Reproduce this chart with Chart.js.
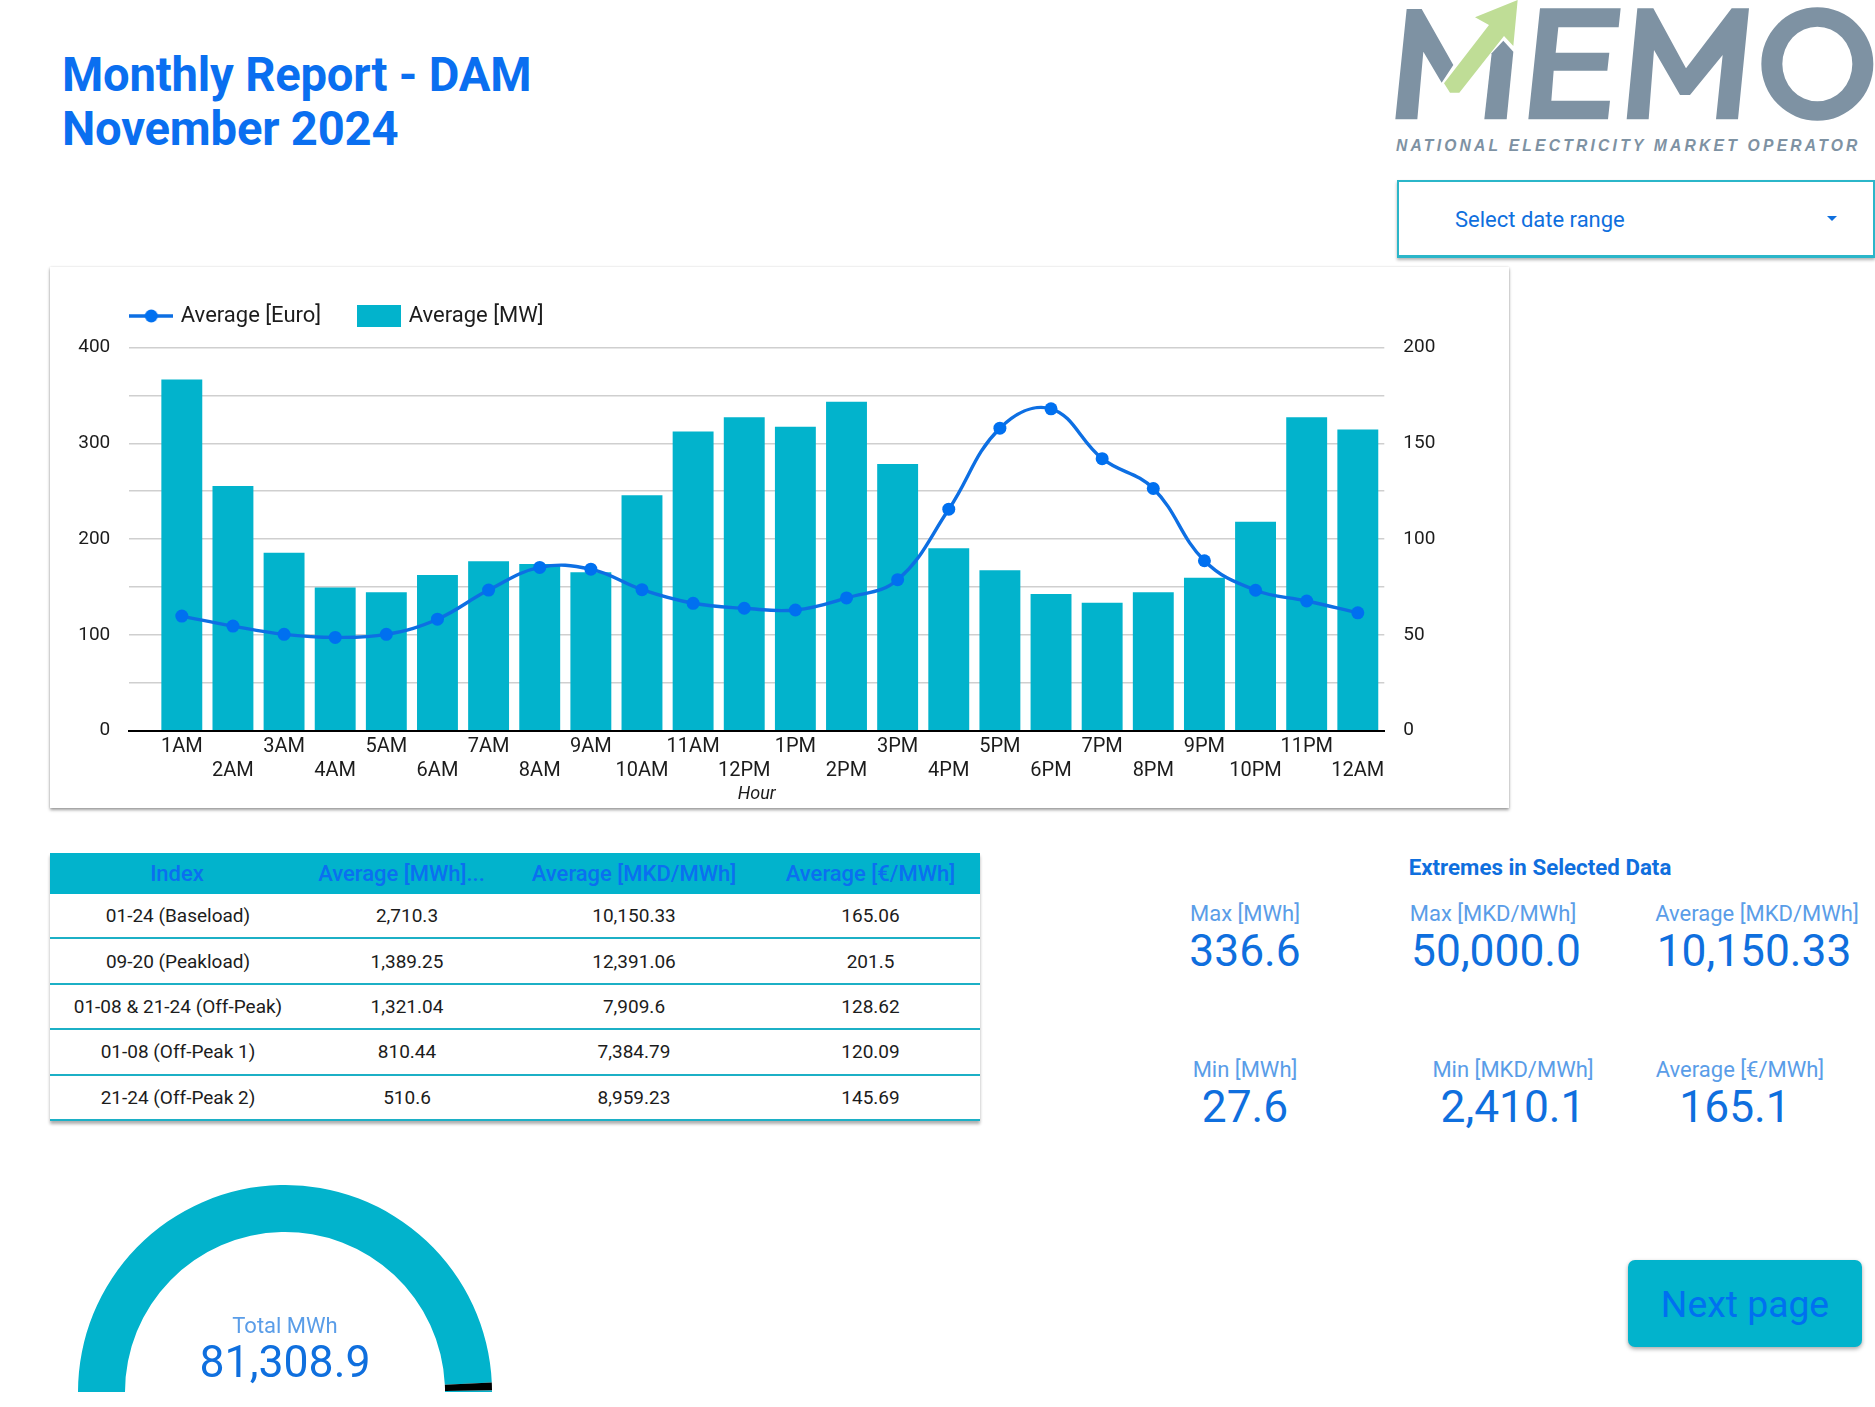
<!DOCTYPE html>
<html><head><meta charset="utf-8">
<script src="https://cdn.jsdelivr.net/npm/chart.js@4"></script>
<style>
html,body{margin:0;padding:0;background:#fff;width:1875px;height:1407px;overflow:hidden;font-family:Roboto,sans-serif}
.abs{position:absolute}
.c{position:absolute;transform:translate(-50%,-50%);white-space:nowrap}
#title{left:62px;top:48px;font-size:47.2px;line-height:54px;font-weight:700;color:#0a6ff0;letter-spacing:-.2px}
#dd{left:1397px;top:180px;width:478px;height:78px;box-sizing:border-box;border:2px solid #2bb6c9;border-bottom-width:3px;border-right:2px solid #2bb6c9;box-shadow:0 2px 3px rgba(0,0,0,.3)}
#ddt{left:1455px;top:219px;font-size:22px;color:#0f6fde;transform:translateY(-50%);position:absolute;white-space:nowrap}
#card{left:50px;top:267px;width:1459px;height:541px;background:#fff;box-shadow:0 2px 3px rgba(0,0,0,.38),0 0 2px rgba(0,0,0,.12)}
#tbl{left:50px;top:853px;width:930px;border-collapse:collapse;table-layout:fixed;box-shadow:0 3px 3px rgba(0,0,0,.32);background:#fff}
#tbl th{height:41px;padding:0;background:#02b3cc;color:#0b6ff0;font-size:22px;font-weight:500;text-align:center}
#tbl th:nth-child(2){padding-right:8px}
#tbl td{height:43.4px;padding:0;border-bottom:2px solid #1cb0c6;font-size:19px;color:#1c1c1c;text-align:center}
#tbl td:nth-child(1){padding-left:2px}
#tbl td:nth-child(2){padding-left:3px}
.lb{font-size:22px;color:#5a9de8}
.vl{font-size:44.3px;color:#0f6fde}
#btn{left:1628px;top:1260px;width:234px;height:87px;background:#02b3cc;border-radius:7px;box-shadow:0 2px 4px rgba(0,0,0,.35);color:#0070f0;font-size:37.3px;display:flex;align-items:center;justify-content:center}
</style></head><body>
<div id="title" class="abs">Monthly Report - DAM<br>November 2024</div>

<svg class="abs" style="left:1380px;top:0" width="495" height="270" viewBox="0 0 1485 810">
<g fill="#7e92a3">
<polygon points="46,358 80,27 125,27 220,195 185,248 130,155 112,358"/>
<polygon points="313,358 335,160 370,122 400,155 380,358"/>
<polygon points="445,358 480,25 722,25 716,82 535,82 527,158 688,158 682,212 521,212 514,302 690,302 684,358"/>
<polygon points="740,358 772,25 820,25 918,205 1055,25 1107,25 1074,358 1008,358 1028,165 930,285 900,285 822,150 806,358"/>
<path fill-rule="evenodd" d="M1144 192a168 170 0 1 0 336 0a168 170 0 1 0 -336 0zM1207 192a105 112 0 1 1 210 0a105 112 0 1 1 -210 0z"/>
</g>
<polygon fill="#bfdd96" points="192,250 210,278 238,278 372,108 400,138 413,0 285,52 327,75"/>
<text x="48" y="452" font-family="Liberation Sans" font-style="italic" font-weight="700" font-size="47" fill="#7e92a3" textLength="1384" lengthAdjust="spacing">NATIONAL ELECTRICITY MARKET OPERATOR</text>
</svg>

<div id="dd" class="abs"></div>
<div id="ddt">Select date range</div>
<svg class="abs" style="left:1826px;top:215px" width="12" height="7"><polygon points="1,1 11,1 6,6" fill="#0f6fde"/></svg>

<div id="card" class="abs"><canvas id="combo" width="1459" height="541" style="display:block;width:1459px;height:541px"></canvas></div>

<table id="tbl" class="abs"><colgroup><col style="width:254px"><col style="width:203px"><col style="width:254px"><col style="width:219px"></colgroup>
<thead><tr id="thead"></tr></thead><tbody id="tbody"></tbody></table>

<div id="stats"></div>

<div class="abs" style="left:78px;top:1185px;width:414px;height:207px"><canvas id="gauge" width="414" height="207" style="display:block;width:414px;height:207px"></canvas></div>
<div class="c lb" style="left:285px;top:1325px">Total MWh</div>
<div class="c vl" style="left:285px;top:1362px;font-size:44.6px">81,308.9</div>

<div id="btn" class="abs">Next page</div>

<script>
const hourLabels = ['1AM','2AM','3AM','4AM','5AM','6AM','7AM','8AM','9AM','10AM','11AM','12PM','1PM','2PM','3PM','4PM','5PM','6PM','7PM','8PM','9PM','10PM','11PM','12AM'];
const averageEuro = [59.8,54.6,50.3,48.7,50.3,58.2,73.4,85.2,84.3,73.6,66.5,63.9,63,69.3,78.8,115.6,157.9,168,142,126.4,88.7,73.3,67.7,61.5];
const averageMW = [366.5,255.4,185.7,149.5,144.6,162.5,177,174,165.5,245.7,312.4,327.3,317.3,343.4,278.5,190.5,167.4,142.8,133.5,144.6,159.6,218,327.3,314.3];
const leftTickLabels = ['0','100','200','300','400'];
const rightTickLabels = ['0','50','100','150','200'];
const tableHeaders = ['Index','Average [MWh]...','Average [MKD/MWh]','Average [€/MWh]'];
const tableRows = [
 ['01-24 (Baseload)','2,710.3','10,150.33','165.06'],
 ['09-20 (Peakload)','1,389.25','12,391.06','201.5'],
 ['01-08 & 21-24 (Off-Peak)','1,321.04','7,909.6','128.62'],
 ['01-08 (Off-Peak 1)','810.44','7,384.79','120.09'],
 ['21-24 (Off-Peak 2)','510.6','8,959.23','145.69']];
const gaugeSegments = [177.4,2.2,0.4];

const TEAL='#02b3cc', BLUE='#0d6fe3', DOT='#0070f0';
document.getElementById('thead').innerHTML = tableHeaders.map(h=>`<th>${h}</th>`).join('');
document.getElementById('tbody').innerHTML = tableRows.map(r=>'<tr>'+r.map(c=>`<td>${c.replace('&','&amp;')}</td>`).join('')+'</tr>').join('');

const statCells = [
 ['Max [MWh]','336.6',1245,913,1245,951],
 ['Max [MKD/MWh]','50,000.0',1493,913,1496,951],
 ['Average [MKD/MWh]','10,150.33',1757,913,1754,951],
 ['Min [MWh]','27.6',1245,1069,1245,1107],
 ['Min [MKD/MWh]','2,410.1',1513,1069,1513,1107],
 ['Average [€/MWh]','165.1',1740,1069,1735,1107]];
let sh = '<div class="c" style="left:1540px;top:867px;font-size:22.3px;font-weight:700;color:#0f6fde">Extremes in Selected Data</div>';
statCells.forEach(s=>{sh+=`<div class="c lb" style="left:${s[2]}px;top:${s[3]}px">${s[0]}</div><div class="c vl" style="left:${s[4]}px;top:${s[5]}px">${s[1]}</div>`;});
document.getElementById('stats').innerHTML = sh;

function lineSwatch(){const c=document.createElement('canvas');c.width=44;c.height=20;const x=c.getContext('2d');
 x.strokeStyle=BLUE;x.lineWidth=3.4;x.beginPath();x.moveTo(0,10);x.lineTo(44,10);x.stroke();
 x.fillStyle=DOT;x.beginPath();x.arc(22,10,6.5,0,Math.PI*2);x.fill();return c;}
function barSwatch(){const c=document.createElement('canvas');c.width=44;c.height=22;const x=c.getContext('2d');
 x.fillStyle=TEAL;x.fillRect(0,0,44,22);return c;}

Chart.defaults.font.family='Roboto';
Chart.defaults.color='#1c1c1c';
const PL=79.3, PR=1334.3, PT=80.5, PB=463.7, CW=1459, CH=541;
const LEG_PAD=39.5;

const placer={id:'placer',
 beforeUpdate(ch){
  const lg=ch.legend;
  if(lg && !lg._wrapped){const f=lg.fit; lg.fit=function(){f.call(this); this.height=PT;}; lg._wrapped=true;}
 },
 afterLayout(ch){ if(ch.legend){ch.legend.left=PL-LEG_PAD+3.5; ch.legend.top=-1.5;} }
};

new Chart(document.getElementById('combo'),{
 type:'bar',
 plugins:[placer],
 data:{datasets:[
  {type:'line',label:'Average [Euro]',yAxisID:'yR',order:0,
   data:averageEuro.map((v,i)=>({x:i,y:v})),
   borderColor:BLUE,borderWidth:3.4,backgroundColor:DOT,pointBackgroundColor:DOT,pointBorderWidth:0,pointRadius:6.5,tension:0.4,cubicInterpolationMode:'default'},
  {type:'bar',label:'Average [MW]',yAxisID:'yL',order:1,
   data:averageMW.map((v,i)=>({x:i,y:v})),
   backgroundColor:TEAL,categoryPercentage:1,barPercentage:0.8}
 ]},
 options:{responsive:false,animation:false,devicePixelRatio:1,
  layout:{padding:0},
  plugins:{tooltip:{enabled:false},
   legend:{display:true,position:'top',align:'start',
    labels:{font:{size:22},color:'#1c1c1c',padding:LEG_PAD,usePointStyle:true,pointStyleWidth:37,
     generateLabels(ch){return [
      {text:'Average [Euro]',pointStyle:lineSwatch(),datasetIndex:0,hidden:false,lineWidth:0,fontColor:'#1c1c1c'},
      {text:'Average [MW]',pointStyle:barSwatch(),datasetIndex:1,hidden:false,lineWidth:0,fontColor:'#1c1c1c'}];}
    }}},
  scales:{
   x:{type:'linear',position:'bottom',offset:false,min:-1.027,max:23.518,bounds:'data',
    afterBuildTicks(a){a.ticks=hourLabels.map((_,i)=>({value:i}));},
    afterFit(a){a.height=CH-PB;},
    grid:{display:false,drawTicks:false},
    border:{display:true,color:'#000',width:2},
    ticks:{autoSkip:false,maxRotation:0,minRotation:0,padding:4,color:'#1c1c1c',font:{size:20,lineHeight:1.2},
     callback(v){const l=hourLabels[v]; if(l===undefined) return ''; return v%2===0?[l,'']:['',l];}},
    title:{display:true,text:'Hour',padding:{top:0,bottom:3},font:{size:18,style:'italic'},color:'#1c1c1c'}},
   yL:{type:'linear',position:'left',min:0,max:400,
    afterFit(a){a.width=PL;},
    grid:{color:'#cfcfcf',lineWidth:1.6,drawTicks:false},border:{display:false},
    ticks:{stepSize:50,padding:19,color:'#1c1c1c',font:{size:19},callback(v){return leftTickLabels.includes(String(v))?String(v):'';}}},
   yR:{type:'linear',position:'right',min:0,max:200,
    afterFit(a){a.width=CW-PR;},
    grid:{display:false,drawTicks:false},border:{display:false},
    ticks:{stepSize:50,padding:19,color:'#1c1c1c',font:{size:19},callback(v){return rightTickLabels.includes(String(v))?String(v):'';}}}
  }}
});

new Chart(document.getElementById('gauge'),{
 type:'doughnut',
 data:{labels:['Total MWh','Target','Rest'],datasets:[{data:gaugeSegments,backgroundColor:[TEAL,'#000000',TEAL],borderWidth:0}]},
 options:{responsive:false,animation:false,devicePixelRatio:1,rotation:-90,circumference:180,cutout:'77.3%',
  layout:{padding:0},plugins:{legend:{display:false},tooltip:{enabled:false}}}
});
</script>
</body></html>
